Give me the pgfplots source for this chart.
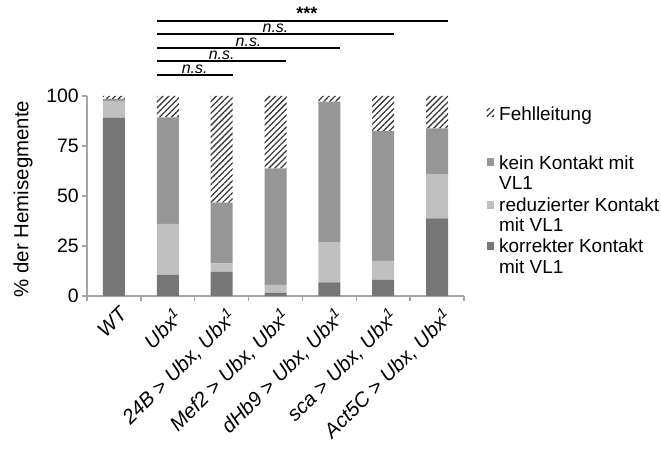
\documentclass[border=0pt]{standalone}
\usepackage{pgfplots}
\pgfplotsset{compat=1.18}
\usepackage{fontspec}
\setmainfont{Liberation Sans}
\usetikzlibrary{patterns.meta}
\definecolor{korr}{HTML}{767676}
\definecolor{redu}{HTML}{C0C0C0}
\definecolor{kein}{HTML}{969696}
\definecolor{axgray}{HTML}{A6A6A6}
\definecolor{hatchc}{HTML}{3A3A3A}
\tikzset{hatchfill/.style={pattern={Lines[angle=45,distance=4.2bp,line width=1.3bp]},pattern color=hatchc}}
\begin{document}
\begin{tikzpicture}
\path[use as bounding box] (0,0) rectangle (661bp,449bp);
\begin{axis}[
  at={(87bp,153bp)}, anchor=south west,
  scale only axis, width=377bp, height=200bp,
  ybar stacked, bar width=22bp,
  xmin=-0.5, xmax=6.5, ymin=0, ymax=100,
  ytick={0,25,50,75,100},
  xtick={-0.5,0.5,...,6.5}, xticklabels={},
  extra x ticks={0,1,2,3,4,5,6},
  extra x tick labels={WT,{Ubx\textsuperscript{1}},{24B > Ubx, Ubx\textsuperscript{1}},{Mef2 > Ubx, Ubx\textsuperscript{1}},{dHb9 > Ubx, Ubx\textsuperscript{1}},{sca > Ubx, Ubx\textsuperscript{1}},{Act5C > Ubx, Ubx\textsuperscript{1}}},
  extra x tick style={major tick length=0pt, tick style={draw=none},
     tick label style={rotate=45, anchor=north east, font=\fontsize{20.5}{23}\selectfont\itshape, inner sep=1bp, xshift=-3bp, yshift=-9bp}},
  axis x line*=bottom, axis y line*=left,
  axis line style={axgray, line width=1.6bp},
  tick style={axgray, line width=1.4bp},
  tick align=outside, major tick length=5bp,
  /pgf/number format/assume math mode=true,
  yticklabel style={font=\fontsize{19.5}{22}\selectfont, inner sep=3bp},
  clip=false,
]
% korrekter Kontakt
\addplot[fill=korr, draw=none] coordinates {(0,89) (1,10.5) (2,12) (3,1.7) (4,6.8) (5,8) (6,38.8)};
% reduzierter Kontakt
\addplot[fill=redu, draw=none] coordinates {(0,8.5) (1,25.5) (2,4.3) (3,3.8) (4,19.9) (5,9.5) (6,22.2)};
% kein Kontakt
\addplot[fill=kein, draw=none] coordinates {(0,1) (1,53.3) (2,30.4) (3,58.3) (4,70.5) (5,65) (6,22.8)};
% Fehlleitung
\addplot[hatchfill, draw=none] coordinates {(0,1.5) (1,10.7) (2,53.3) (3,36.2) (4,2.8) (5,17.5) (6,16.2)};

\draw[black, line width=1.6bp] (axis cs:0.796,137.5) -- (axis cs:6.204,137.5)
   node[pos=0.515, above, inner sep=0.5bp, font=\fontsize{18}{20}\selectfont\bfseries] {***};
\draw[black, line width=1.6bp] (axis cs:0.796,131) -- (axis cs:5.204,131)
   node[midway, above, inner sep=0.3bp, font=\fontsize{16}{18}\selectfont\itshape] {n.s.};
\draw[black, line width=1.6bp] (axis cs:0.796,124) -- (axis cs:4.204,124)
   node[midway, above, inner sep=0.3bp, font=\fontsize{16}{18}\selectfont\itshape] {n.s.};
\draw[black, line width=1.6bp] (axis cs:0.796,117.5) -- (axis cs:3.204,117.5)
   node[midway, above, inner sep=0.3bp, font=\fontsize{16}{18}\selectfont\itshape] {n.s.};
\draw[black, line width=1.6bp] (axis cs:0.796,110.5) -- (axis cs:2.204,110.5)
   node[midway, above, inner sep=0.3bp, font=\fontsize{16}{18}\selectfont\itshape] {n.s.};
\end{axis}
% y label
\node[rotate=90, font=\fontsize{20.5}{23}\selectfont] at (23bp,250bp) {\% der Hemisegmente};
% legend
\begin{scope}[every node/.style={anchor=base west, inner sep=0pt, font=\fontsize{19}{22}\selectfont}]
\fill[hatchfill] (486.5bp,332bp) rectangle (494bp,340bp);
\node at (499bp,328bp) {Fehlleitung};
\fill[kein] (486.5bp,283bp) rectangle (494bp,291bp);
\node at (499bp,279bp) {kein Kontakt mit};
\node at (499bp,259bp) {VL1};
\fill[redu] (486.5bp,240bp) rectangle (494bp,248bp);
\node at (499bp,237bp) {reduzierter Kontakt};
\node at (499bp,217bp) {mit VL1};
\fill[korr] (486.5bp,199bp) rectangle (494bp,207bp);
\node at (499bp,196bp) {korrekter Kontakt};
\node at (499bp,175bp) {mit VL1};
\end{scope}
\end{tikzpicture}
\end{document}
